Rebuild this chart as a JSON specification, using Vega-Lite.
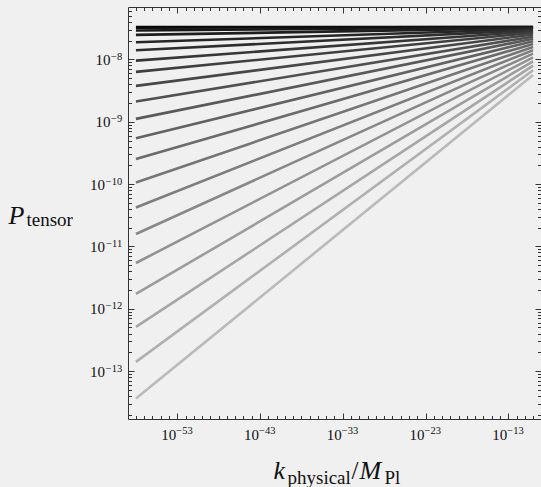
{
  "$schema": "https://vega.github.io/schema/vega-lite/v6.json",
  "width": 413,
  "height": 412,
  "autosize": {"type": "none"},
  "padding": {"left": 128, "top": 7, "right": 0, "bottom": 68},
  "background": "#f0f0f0",
  "config": {
    "view": {"stroke": null},
    "axis": {
      "grid": false,
      "labelFont": "Liberation Serif",
      "titleFont": "Liberation Serif",
      "labelColor": "#111111",
      "titleColor": "#111111",
      "titleFontWeight": "normal",
      "domainColor": "#333333",
      "tickColor": "#333333",
      "labelOverlap": false,
      "labelFlush": false,
      "labelBound": false
    }
  },
  "data": {
    "values": [
      {"id": 0, "k": 1e-58, "P": 3.319e-8}, {"id": 0, "k": 1e-10, "P": 3.319e-8},
      {"id": 1, "k": 1e-58, "P": 3.221e-8}, {"id": 1, "k": 1e-10, "P": 3.304e-8},
      {"id": 2, "k": 1e-58, "P": 2.917e-8}, {"id": 2, "k": 1e-10, "P": 3.266e-8},
      {"id": 3, "k": 1e-58, "P": 2.472e-8}, {"id": 3, "k": 1e-10, "P": 3.192e-8},
      {"id": 4, "k": 1e-58, "P": 1.888e-8}, {"id": 4, "k": 1e-10, "P": 3.083e-8},
      {"id": 5, "k": 1e-58, "P": 1.403e-8}, {"id": 5, "k": 1e-10, "P": 2.972e-8},
      {"id": 6, "k": 1e-58, "P": 9.57e-9}, {"id": 6, "k": 1e-10, "P": 2.825e-8},
      {"id": 7, "k": 1e-58, "P": 6.31e-9}, {"id": 7, "k": 1e-10, "P": 2.679e-8},
      {"id": 8, "k": 1e-58, "P": 3.758e-9}, {"id": 8, "k": 1e-10, "P": 2.506e-8},
      {"id": 9, "k": 1e-58, "P": 2.109e-9}, {"id": 9, "k": 1e-10, "P": 2.323e-8},
      {"id": 10, "k": 1e-58, "P": 1.112e-9}, {"id": 10, "k": 1e-10, "P": 2.143e-8},
      {"id": 11, "k": 1e-58, "P": 5.458e-10}, {"id": 11, "k": 1e-10, "P": 1.954e-8},
      {"id": 12, "k": 1e-58, "P": 2.518e-10}, {"id": 12, "k": 1e-10, "P": 1.766e-8},
      {"id": 13, "k": 1e-58, "P": 1.062e-10}, {"id": 13, "k": 1e-10, "P": 1.581e-8},
      {"id": 14, "k": 1e-58, "P": 4.217e-11}, {"id": 14, "k": 1e-10, "P": 1.403e-8},
      {"id": 15, "k": 1e-58, "P": 1.581e-11}, {"id": 15, "k": 1e-10, "P": 1.236e-8},
      {"id": 16, "k": 1e-58, "P": 5.42e-12}, {"id": 16, "k": 1e-10, "P": 1.076e-8},
      {"id": 17, "k": 1e-58, "P": 1.726e-12}, {"id": 17, "k": 1e-10, "P": 9.29e-9},
      {"id": 18, "k": 1e-58, "P": 5.105e-13}, {"id": 18, "k": 1e-10, "P": 7.94e-9},
      {"id": 19, "k": 1e-58, "P": 1.403e-13}, {"id": 19, "k": 1e-10, "P": 6.71e-9},
      {"id": 20, "k": 1e-58, "P": 3.622e-14}, {"id": 20, "k": 1e-10, "P": 5.64e-9}
    ]
  },
  "layer": [
    {
      "mark": {"type": "line", "strokeWidth": 2.6, "clip": true},
      "encoding": {
        "x": {
          "field": "k", "type": "quantitative",
          "scale": {"type": "log", "domain": [1.0965e-59, 9.12e-10], "nice": false},
          "axis": {
            "orient": "bottom",
            "values": [1e-58,1e-57,1e-56,1e-55,1e-54,1e-53,1e-52,1e-51,1e-50,1e-49,1e-48,1e-47,1e-46,1e-45,1e-44,1e-43,1e-42,1e-41,1e-40,1e-39,1e-38,1e-37,1e-36,1e-35,1e-34,1e-33,1e-32,1e-31,1e-30,1e-29,1e-28,1e-27,1e-26,1e-25,1e-24,1e-23,1e-22,1e-21,1e-20,1e-19,1e-18,1e-17,1e-16,1e-15,1e-14,1e-13,1e-12,1e-11,1e-10],
            "labels": false,
            "tickSize": {"condition": {"test": "abs(round(log(datum.value)/LN10)) % 10 == 3", "value": -6}, "value": -3.5},
            "title": "k",
            "titleFontSize": 26,
            "titleFontStyle": "italic",
            "titleAlign": "left",
            "titleBaseline": "alphabetic",
            "titleX": 145,
            "titleY": 59
          }
        },
        "y": {
          "field": "P", "type": "quantitative",
          "scale": {"type": "log", "domain": [1.702e-14, 6.934e-8], "nice": false},
          "axis": {
            "orient": "left",
            "values": [2e-14,3e-14,4e-14,5e-14,6e-14,7e-14,8e-14,9e-14,1e-13,2e-13,3e-13,4e-13,5e-13,6e-13,7e-13,8e-13,9e-13,1e-12,2e-12,3e-12,4e-12,5e-12,6e-12,7e-12,8e-12,9e-12,1e-11,2e-11,3e-11,4e-11,5e-11,6e-11,7e-11,8e-11,9e-11,1e-10,2e-10,3e-10,4e-10,5e-10,6e-10,7e-10,8e-10,9e-10,1e-9,2e-9,3e-9,4e-9,5e-9,6e-9,7e-9,8e-9,9e-9,1e-8,2e-8,3e-8,4e-8,5e-8,6e-8],
            "labels": false,
            "tickSize": {"condition": {"test": "abs(log(datum.value)/LN10 - round(log(datum.value)/LN10)) < 0.001", "value": -6}, "value": -3.5},
            "title": "P",
            "titleFontSize": 26,
            "titleFontStyle": "italic",
            "titleAngle": 0,
            "titleAlign": "left",
            "titleBaseline": "alphabetic",
            "titleX": -120,
            "titleY": 216
          }
        },
        "color": {"field": "id", "type": "quantitative", "scale": {"domain": [0, 20], "range": ["#000000", "#bababa"]}, "legend": null},
        "detail": {"field": "id"}
      }
    },
    {
      "mark": {"type": "point", "opacity": 0, "size": 0},
      "encoding": {
        "x": {
          "field": "k", "type": "quantitative",
          "scale": {"type": "log", "domain": [1.0965e-59, 9.12e-10], "nice": false},
          "axis": {
            "orient": "top",
            "values": [1e-58,1e-57,1e-56,1e-55,1e-54,1e-53,1e-52,1e-51,1e-50,1e-49,1e-48,1e-47,1e-46,1e-45,1e-44,1e-43,1e-42,1e-41,1e-40,1e-39,1e-38,1e-37,1e-36,1e-35,1e-34,1e-33,1e-32,1e-31,1e-30,1e-29,1e-28,1e-27,1e-26,1e-25,1e-24,1e-23,1e-22,1e-21,1e-20,1e-19,1e-18,1e-17,1e-16,1e-15,1e-14,1e-13,1e-12,1e-11,1e-10],
            "labels": false,
            "tickSize": {"condition": {"test": "abs(round(log(datum.value)/LN10)) % 10 == 3", "value": -6}, "value": -3.5},
            "title": "physical",
            "titleFontSize": 19,
            "titleAlign": "left",
            "titleBaseline": "alphabetic",
            "titleX": 159,
            "titleY": 476
          }
        },
        "y": {
          "field": "P", "type": "quantitative",
          "scale": {"type": "log", "domain": [1.702e-14, 6.934e-8], "nice": false},
          "axis": {
            "orient": "right",
            "values": [2e-14,3e-14,4e-14,5e-14,6e-14,7e-14,8e-14,9e-14,1e-13,2e-13,3e-13,4e-13,5e-13,6e-13,7e-13,8e-13,9e-13,1e-12,2e-12,3e-12,4e-12,5e-12,6e-12,7e-12,8e-12,9e-12,1e-11,2e-11,3e-11,4e-11,5e-11,6e-11,7e-11,8e-11,9e-11,1e-10,2e-10,3e-10,4e-10,5e-10,6e-10,7e-10,8e-10,9e-10,1e-9,2e-9,3e-9,4e-9,5e-9,6e-9,7e-9,8e-9,9e-9,1e-8,2e-8,3e-8,4e-8,5e-8,6e-8],
            "labels": false,
            "tickSize": {"condition": {"test": "abs(log(datum.value)/LN10 - round(log(datum.value)/LN10)) < 0.001", "value": -6}, "value": -3.5},
            "title": "tensor",
            "titleFontSize": 19,
            "titleAngle": 0,
            "titleAlign": "left",
            "titleBaseline": "alphabetic",
            "titleX": -515,
            "titleY": 218
          }
        }
      }
    },
    {
      "mark": {"type": "point", "opacity": 0, "size": 0},
      "encoding": {
        "x": {
          "field": "k", "type": "quantitative",
          "scale": {"type": "log", "domain": [1.0965e-59, 9.12e-10], "nice": false},
          "axis": {
            "orient": "bottom", "domain": false,
            "ticks": true, "tickSize": 0, "tickOpacity": 0,
            "values": [1e-53, 1e-43, 1e-33, 1e-23, 1e-13],
            "labelExpr": "'10'",
            "labelFontSize": 15,
            "labelAlign": "right",
            "labelBaseline": "alphabetic",
            "labelPadding": 20,
            "labelOffset": -1.5,
            "title": "/",
            "titleFontSize": 25,
            "titleAlign": "left",
            "titleBaseline": "alphabetic",
            "titleX": 223,
            "titleY": 59
          }
        },
        "y": {
          "field": "P", "type": "quantitative",
          "scale": {"type": "log", "domain": [1.702e-14, 6.934e-8], "nice": false},
          "axis": {
            "orient": "left", "domain": false,
            "ticks": true, "tickSize": 0, "tickOpacity": 0,
            "values": [1e-13, 1e-12, 1e-11, 1e-10, 1e-9, 1e-8],
            "labelExpr": "'10'",
            "labelFontSize": 15,
            "labelAlign": "right",
            "labelBaseline": "alphabetic",
            "labelOffset": 5,
            "labelPadding": {"condition": {"test": "datum.value > 3e-10", "value": 18}, "value": 23.5},
            "title": "M",
            "titleFontSize": 26,
            "titleFontStyle": "italic",
            "titleAngle": 0,
            "titleAlign": "left",
            "titleBaseline": "alphabetic",
            "titleX": 231,
            "titleY": 471
          }
        }
      }
    },
    {
      "mark": {"type": "point", "opacity": 0, "size": 0},
      "encoding": {
        "x": {
          "field": "k", "type": "quantitative",
          "scale": {"type": "log", "domain": [1.0965e-59, 9.12e-10], "nice": false},
          "axis": {
            "orient": "bottom", "domain": false,
            "ticks": true, "tickSize": 0, "tickOpacity": 0,
            "values": [1e-53, 1e-43, 1e-33, 1e-23, 1e-13],
            "labelExpr": "'−' + abs(round(log(datum.value)/LN10))",
            "labelFontSize": 10.5,
            "labelAlign": "left",
            "labelBaseline": "alphabetic",
            "labelPadding": 14,
            "labelOffset": -1.5,
            "title": "Pl",
            "titleFontSize": 19,
            "titleAlign": "left",
            "titleBaseline": "alphabetic",
            "titleX": 256,
            "titleY": 64
          }
        },
        "y": {
          "field": "P", "type": "quantitative",
          "scale": {"type": "log", "domain": [1.702e-14, 6.934e-8], "nice": false},
          "axis": {
            "orient": "left", "domain": false,
            "ticks": true, "tickSize": 0, "tickOpacity": 0,
            "values": [1e-13, 1e-12, 1e-11, 1e-10, 1e-9, 1e-8],
            "labelExpr": "'−' + abs(round(log(datum.value)/LN10))",
            "labelFontSize": 10.5,
            "labelAlign": "right",
            "labelBaseline": "alphabetic",
            "labelOffset": 0,
            "labelPadding": 6.3,
            "title": null
          }
        }
      }
    }
  ],
  "resolve": {"axis": {"x": "independent", "y": "independent"}}
}
